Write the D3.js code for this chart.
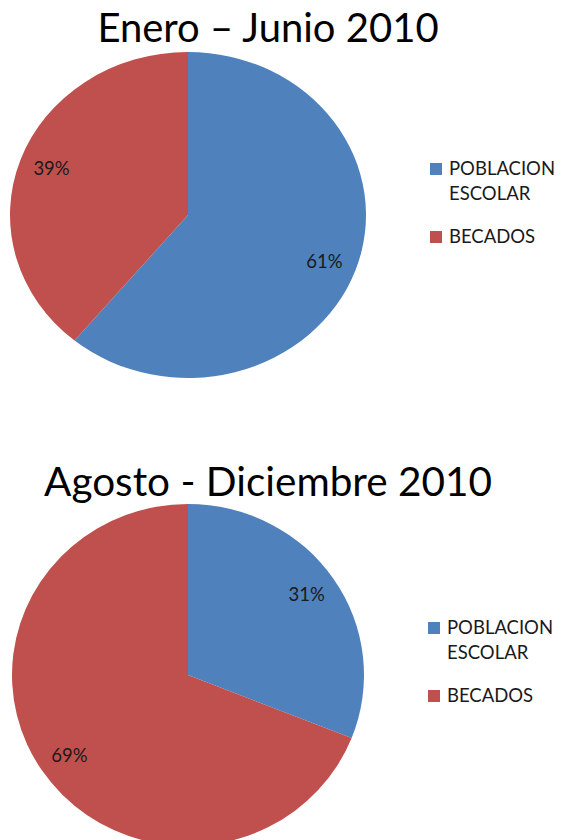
<!DOCTYPE html>
<html>
<head>
	<meta charset="utf-8">
	<title>Poblacion escolar y becados 2010</title>
	<style type="text/css">
		body { margin: 0; background: #fff; }
		svg { display: block; font-family: 'Lato', 'Open Sans', sans-serif; }
	</style>
	<script src="https://d3js.org/d3.v7.min.js"></script>
</head>
<body>
	<svg width="561" height="840"></svg>
	<script type="text/javascript">
		// data
		const categories = ['POBLACION ESCOLAR', 'BECADOS'];
		const legendLines = [['POBLACION', 'ESCOLAR'], ['BECADOS']];
		const colors = ['#4F81BD', '#C0504D'];
		const titles = ['Enero \u2013 Junio 2010', 'Agosto - Diciembre 2010'];
		const valuesEneroJunio = [61, 39];
		const valuesAgostoDic = [31, 69];

		var svg = d3.select('svg');

		// layout of each panel (pie is a bit stretched, like the source)
		var panels = [
			{title: titles[0], values: valuesEneroJunio, cx: 188, cy: 215, rx: 178, ry: 163,
				titleY: 42, titleSize: 40, legendX: 430, legendY: 163},
			{title: titles[1], values: valuesAgostoDic, cx: 188, cy: 675, rx: 176, ry: 171,
				titleY: 496, titleSize: 40.5, legendX: 428, legendY: 622}
		];

		var pie = d3.pie().sort(null).value(d => d);

		panels.forEach(p => {
			svg.append('text')
				.attr('x', 268)
				.attr('y', p.titleY)
				.attr('text-anchor', 'middle')
				.attr('font-size', p.titleSize + 'px')
				.attr('fill', '#000')
				.text(p.title);

			var g = svg.append('g')
				.attr('transform', 'translate(' + p.cx + ',' + p.cy + ') scale(' + (p.rx / p.ry) + ',1)');

			var arc = d3.arc().innerRadius(0).outerRadius(p.ry);
			var labelArc = d3.arc().innerRadius(p.ry * 0.84).outerRadius(p.ry * 0.84);
			var slices = pie(p.values);

			g.selectAll('path')
				.data(slices)
				.enter()
				.append('path')
				.attr('d', arc)
				.attr('fill', (d, i) => colors[i]);

			// labels outside the scaled group so text is not stretched
			slices.forEach(d => {
				var c = labelArc.centroid(d);
				svg.append('text')
					.attr('x', p.cx + c[0] * p.rx / p.ry * 0.97)
					.attr('y', p.cy + c[1])
					.attr('dy', '0.35em')
					.attr('text-anchor', 'middle')
					.attr('font-size', '18.5px')
					.attr('fill', '#1a1a1a')
					.text(d.data + '%');
			});

			// legend
			var ly = p.legendY;
			categories.forEach((c, i) => {
				svg.append('rect')
					.attr('x', p.legendX)
					.attr('y', ly)
					.attr('width', 12)
					.attr('height', 12)
					.attr('fill', colors[i]);
				legendLines[i].forEach((line, j) => {
					svg.append('text')
						.attr('x', p.legendX + 19)
						.attr('y', ly + 12 + j * 25)
						.attr('font-size', '18.5px')
						.attr('fill', '#1a1a1a')
						.text(line);
				});
				ly += 68;
			});
		});
	</script>
</body>
</html>
